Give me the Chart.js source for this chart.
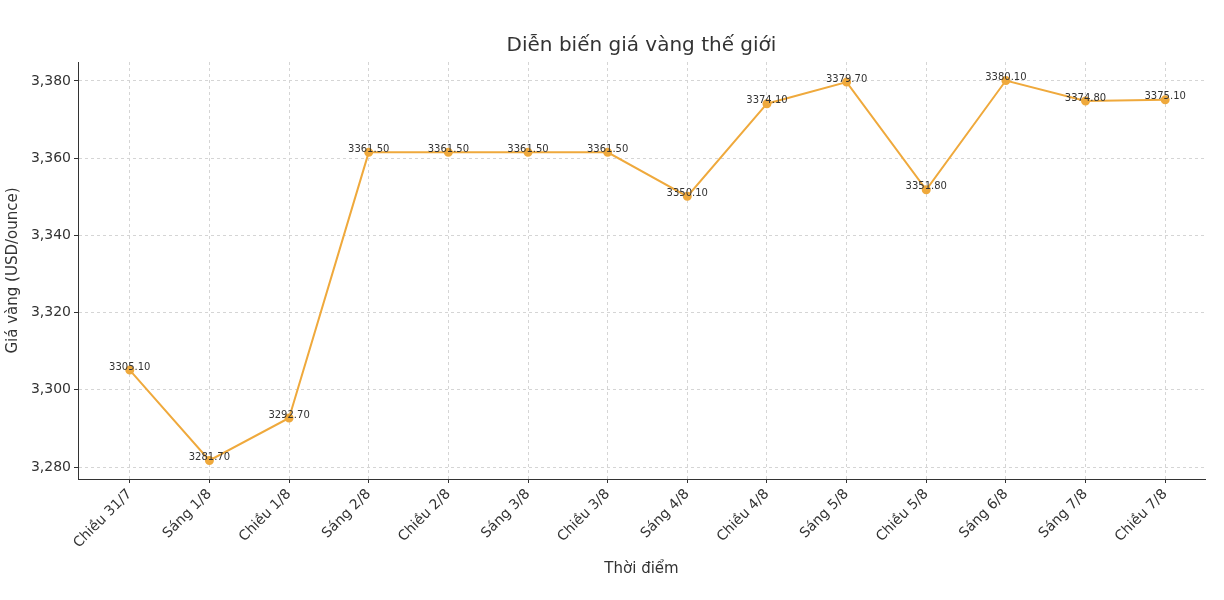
<!DOCTYPE html>
<html>
<head>
<meta charset="utf-8">
<script src="https://cdn.jsdelivr.net/npm/chart.js@4"></script>
<style>
  html, body { margin: 0; padding: 0; background: #fff; }
</style>
</head>
<body>
<canvas id="gia" width="1224" height="600"></canvas>
<script>
var labels = ["Chiều 31/7", "Sáng 1/8", "Chiều 1/8", "Sáng 2/8", "Chiều 2/8", "Sáng 3/8", "Chiều 3/8",
              "Sáng 4/8", "Chiều 4/8", "Sáng 5/8", "Chiều 5/8", "Sáng 6/8", "Sáng 7/8", "Chiều 7/8"];
var prices = [3305.10, 3281.70, 3292.70, 3361.50, 3361.50, 3361.50, 3361.50,
              3350.10, 3374.10, 3379.70, 3351.80, 3380.10, 3374.80, 3375.10];
var yTicks = [3280, 3300, 3320, 3340, 3360, 3380];
var lineColor = "#EFA93C";

var font = "'DejaVu Sans', sans-serif";

// value labels + title
var extras = {
  id: "extras",
  afterDatasetsDraw: function (chart) {
    var ctx = chart.ctx;
    var meta = chart.getDatasetMeta(0);
    ctx.save();
    ctx.font = "10px " + font;
    ctx.fillStyle = "#333";
    ctx.textAlign = "center";
    ctx.textBaseline = "bottom";
    meta.data.forEach(function (pt, i) {
      ctx.fillText(prices[i].toFixed(2), pt.x, pt.y + 2);
    });
    ctx.font = "20px " + font;
    ctx.fillStyle = "#333";
    ctx.textBaseline = "middle";
    ctx.fillText("Diễn biến giá vàng thế giới", (chart.chartArea.left + chart.chartArea.right) / 2, 46);
    ctx.restore();
  }
};

new Chart("gia", {
  type: "line",
  data: {
    datasets: [{
      data: prices.map(function (p, i) { return { x: i, y: p }; }),
      borderColor: lineColor,
      backgroundColor: lineColor,
      borderWidth: 2,
      pointRadius: 3.5,
      tension: 0
    }]
  },
  options: {
    responsive: false,
    animation: false,
    layout: { padding: { top: 62, right: 19, bottom: 18, left: 0 } },
    plugins: { legend: { display: false }, tooltip: { enabled: false } },
    scales: {
      x: {
        type: "linear",
        min: -0.65, max: 13.5,
        afterBuildTicks: function (s) { s.ticks = labels.map(function (l, i) { return { value: i }; }); },
        afterFit: function (s) { s.height = 103; },
        ticks: {
          callback: function (v) { return labels[v]; },
          maxRotation: 45, minRotation: 45,
          color: "#333", font: { family: font, size: 14 }
        },
        grid: { color: "#d5d5d5", tickColor: "#333", tickLength: 4 },
        border: { color: "#333", dash: [3, 3] },
        title: { display: true, text: "Thời điểm", color: "#333", font: { family: font, size: 15 } }
      },
      y: {
        min: 3276.9, max: 3384.9,
        afterBuildTicks: function (s) { s.ticks = yTicks.map(function (v) { return { value: v }; }); },
        afterFit: function (s) { s.width = 78; },
        ticks: { color: "#333", font: { family: font, size: 14 } },
        grid: { color: "#d5d5d5", tickColor: "#333", tickLength: 4 },
        border: { color: "#333", dash: [3, 3] },
        title: { display: true, text: "Giá vàng (USD/ounce)", color: "#333", font: { family: font, size: 15 } }
      }
    }
  },
  plugins: [extras]
});
</script>
</body>
</html>
